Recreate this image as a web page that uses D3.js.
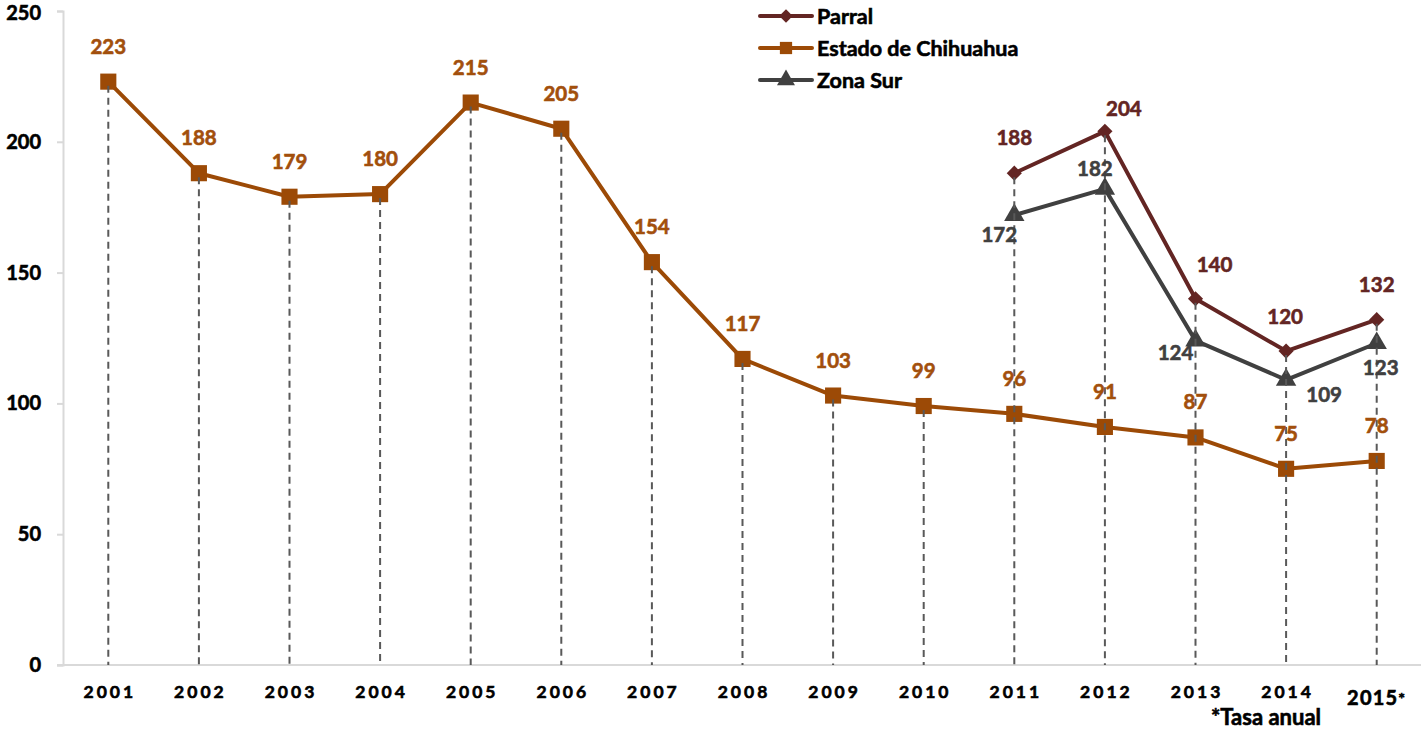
<!DOCTYPE html>
<html>
<head>
<meta charset="utf-8">
<script src="https://cdn.jsdelivr.net/npm/d3@7"></script>
<style>
  body { margin: 0; background: #fff; }
  text { font-family: Lato, "Open Sans", sans-serif; font-weight: bold; }
</style>
</head>
<body>
<svg id="chart" width="1421" height="729"></svg>
<script>
// data
const years = ['2001', '2002', '2003', '2004', '2005', '2006', '2007', '2008',
  '2009', '2010', '2011', '2012', '2013', '2014', '2015'];
const estado = [223, 188, 179, 180, 215, 205, 154, 117, 103, 99, 96, 91, 87, 75, 78];
const parral = [null, null, null, null, null, null, null, null, null, null, 188, 204, 140, 120, 132];
const zonaSur = [null, null, null, null, null, null, null, null, null, null, 172, 182, 124, 109, 123];
const yTicks = [0, 50, 100, 150, 200, 250];

const colors = { parral: '#632523', estado: '#9c4a06', estadoText: '#a24f0c', zona: '#404040' };

const svg = d3.select('#chart');
const margin = { left: 63, right: -1, top: 11, bottom: 64 };
const W = 1421, H = 729;

const x = d3.scaleBand().domain(years).range([margin.left, W - margin.right]);
const y = d3.scaleLinear().domain([0, 250]).range([H - margin.bottom, margin.top]);
const cx = d => x(d) + x.bandwidth() / 2;

// make Lato bold a little heavier, closer to the original
const thicken = sel => sel.attr('stroke', function () { return d3.select(this).attr('fill'); })
  .attr('stroke-width', 0.6).attr('paint-order', 'stroke');

// y axis
const yAxis = svg.append('g').attr('transform', `translate(${margin.left},0)`)
  .call(d3.axisLeft(y).tickValues(yTicks).tickSize(6).tickPadding(16));
yAxis.select('.domain').attr('stroke', '#d9d9d9').attr('stroke-width', 2);
yAxis.selectAll('.tick line').attr('stroke', '#d9d9d9').attr('stroke-width', 2);
yAxis.selectAll('.tick text').attr('font-size', 20).attr('fill', '#000')
  .style('font-family', 'Lato, sans-serif').style('font-weight', 'bold')
  .call(thicken);
// top label sits right at the edge, keep it inside
yAxis.selectAll('.tick text').filter(d => d === 250).attr('dy', '0.42em');

// x axis line
svg.append('line')
  .attr('x1', margin.left - 6).attr('x2', W)
  .attr('y1', y(0)).attr('y2', y(0))
  .attr('stroke', '#d9d9d9').attr('stroke-width', 2);

// x tick labels
svg.append('g').selectAll('text').data(years).join('text')
  .attr('x', d => cx(d) + (d === '2015' ? 0 : 1.5))
  .attr('y', d => d === '2015' ? y(0) + 40 : y(0) + 33)
  .attr('text-anchor', 'middle')
  .attr('font-size', d => d === '2015' ? 20 : 17.5)
  .attr('letter-spacing', d => d === '2015' ? 1.2 : 3)
  .attr('fill', '#000')
  .call(thicken)
  .text(d => d)
  .filter(d => d === '2015')
  .append('tspan').attr('font-size', 16).attr('dy', -1).text('*');

svg.append('text')
  .attr('x', 1266).attr('y', 725)
  .attr('text-anchor', 'middle').attr('font-size', 22).attr('fill', '#000')
  .call(thicken)
  .text('*Tasa anual');

// series
const lineGen = d3.line()
  .defined(d => d.v != null)
  .x(d => cx(d.year)).y(d => y(d.v));
const pts = arr => years.map((yr, i) => ({ year: yr, v: arr[i] }));

const series = [
  { key: 'estado', values: pts(estado), color: colors.estado, symbol: d3.symbolSquare, size: 260, rot: 0 },
  { key: 'zona', values: pts(zonaSur), color: colors.zona, symbol: d3.symbolTriangle, size: 180, rot: 0 },
  { key: 'parral', values: pts(parral), color: colors.parral, symbol: d3.symbolSquare, size: 115, rot: 45 }
];

series.forEach(s => {
  svg.append('path').datum(s.values)
    .attr('d', lineGen)
    .attr('fill', 'none').attr('stroke', s.color)
    .attr('stroke-width', 4).attr('stroke-linejoin', 'round');
  svg.append('g').selectAll('path').data(s.values.filter(d => d.v != null)).join('path')
    .attr('d', d3.symbol().type(s.symbol).size(s.size))
    .attr('transform', d => `translate(${cx(d.year)},${y(d.v)}) rotate(${s.rot})`)
    .attr('fill', s.color);
});

// drop lines from the highest point of each year
svg.append('g').selectAll('line').data(years).join('line')
  .attr('x1', d => cx(d)).attr('x2', d => cx(d))
  .attr('y1', (d, i) => y(d3.max([estado[i], parral[i], zonaSur[i]])) + 4)
  .attr('y2', y(0))
  .attr('stroke', '#595959').attr('stroke-width', 2)
  .attr('stroke-dasharray', '7,5');

// data labels
svg.append('g').selectAll('text').data(pts(estado)).join('text')
  .attr('x', d => cx(d.year))
  .attr('y', d => y(d.v) - 28)
  .attr('text-anchor', 'middle').attr('font-size', 20.5)
  .attr('fill', colors.estadoText)
  .call(thicken)
  .text(d => d.v);

// label nudges [dx, dy] from the marker
const parralNudge = { '2011': [0, -28], '2012': [19, -15], '2013': [19, -27], '2014': [-1, -27], '2015': [0, -28] };
svg.append('g').selectAll('text').data(pts(parral).filter(d => d.v != null)).join('text')
  .attr('x', d => cx(d.year) + parralNudge[d.year][0])
  .attr('y', d => y(d.v) + parralNudge[d.year][1])
  .attr('text-anchor', 'middle').attr('font-size', 20.5)
  .attr('fill', colors.parral)
  .call(thicken)
  .text(d => d.v);

const zonaNudge = { '2011': [-15, 27], '2012': [-10, -13], '2013': [-20, 19], '2014': [38, 22], '2015': [4, 32] };
svg.append('g').selectAll('text').data(pts(zonaSur).filter(d => d.v != null)).join('text')
  .attr('x', d => cx(d.year) + zonaNudge[d.year][0])
  .attr('y', d => y(d.v) + zonaNudge[d.year][1])
  .attr('text-anchor', 'middle').attr('font-size', 20.5)
  .attr('fill', colors.zona)
  .call(thicken)
  .text(d => d.v);

// legend
const legend = [
  { label: 'Parral', color: colors.parral, symbol: d3.symbolSquare, size: 90, rot: 45 },
  { label: 'Estado de Chihuahua', color: colors.estado, symbol: d3.symbolSquare, size: 150, rot: 0 },
  { label: 'Zona Sur', color: colors.zona, symbol: d3.symbolTriangle, size: 140, rot: 0 }
];
const lg = svg.append('g').selectAll('g').data(legend).join('g')
  .attr('transform', (d, i) => `translate(760,${16 + i * 32})`);
lg.append('line').attr('x1', 0).attr('x2', 52)
  .attr('stroke', d => d.color).attr('stroke-width', 4).attr('stroke-linecap', 'round');
lg.append('path')
  .attr('d', d => d3.symbol().type(d.symbol).size(d.size)())
  .attr('transform', d => `translate(26,0) rotate(${d.rot})`)
  .attr('fill', d => d.color);
lg.append('text').attr('x', 57).attr('y', 8)
  .attr('font-size', 21.5).attr('fill', '#000')
  .call(thicken)
  .text(d => d.label);
</script>
</body>
</html>
